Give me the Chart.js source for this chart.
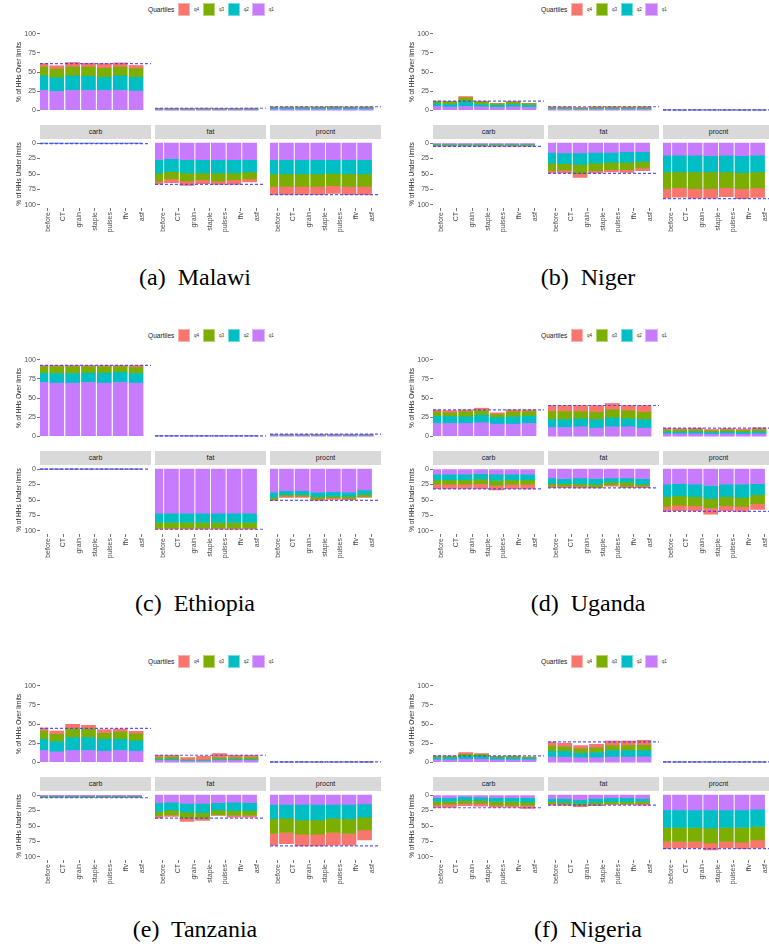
<!DOCTYPE html>
<html>
<head>
<meta charset="utf-8">
<script src="https://cdn.jsdelivr.net/npm/chart.js@4.4.1/dist/chart.umd.min.js"></script>
<style>
  html, body { margin: 0; padding: 0; background: #fff; width: 769px; height: 947px; overflow: hidden; }
  .panel { position: absolute; width: 400px; height: 326px; }
  .legtitle { position: absolute; font: 6.6px "Liberation Sans", Arial, sans-serif; color: #1a1a1a; line-height: 9px; white-space: nowrap; }
  .key { position: absolute; top: 3.3px; width: 12.6px; height: 12.4px; box-sizing: border-box; border: 1px solid rgba(255,255,255,0.45); }
  .keylab { position: absolute; top: 7px; font: 4.5px "Liberation Sans", Arial, sans-serif; line-height: 5px; color: #333; }
  .strip { position: absolute; top: 125px; height: 14px; width: 111px; background: #d9d9d9; font: 7px "Liberation Sans", Arial, sans-serif; color: #1a1a1a; text-align: center; line-height: 14px; }
  .cap { position: absolute; width: 300px; text-align: center; font: 24px "Liberation Serif", "Times New Roman", serif; white-space: pre; line-height: 28px; color: #000; }
</style>
</head>
<body>
<script>
// DATA
const countries = ["Malawi", "Niger", "Ethiopia", "Uganda", "Tanzania", "Nigeria"];
const captionTags = ["(a)", "(b)", "(c)", "(d)", "(e)", "(f)"];
const nutrients = ["carb", "fat", "procnt"];
const scenarios = ["before", "CT", "grain", "staple", "pulses", "ffv", "asf"];
const quartiles = ["q1", "q2", "q3", "q4"];          // stacking order from the axis
const legendOrder = ["q4", "q3", "q2", "q1"];
const quartileColors = ["#C77CFF", "#00BFC4", "#7CAE00", "#F8766D"];
const yTicks = [0, 25, 50, 75, 100];

// rows q1..q4; columns carb x7, fat x7, procnt x7 (% of HHs)
const malawiOver = [
  [26, 24.5, 26, 26, 26, 26, 25, 0.5, 0.5, 0.5, 0.5, 0.5, 0.5, 0.5, 1.2, 1.2, 1.2, 1.2, 1.2, 1.2, 1.2],
  [19, 18, 19, 18.5, 17, 19, 18, 0.6, 0.6, 0.6, 0.6, 0.6, 0.6, 0.6, 1.5, 1.5, 1.5, 1.5, 1.5, 1.5, 1.5],
  [11.5, 11.3, 11.5, 12, 12, 11.5, 11.5, 0.6, 0.6, 0.6, 0.6, 0.6, 0.6, 0.6, 1, 1, 1, 1, 1.2, 1, 1],
  [4.5, 4.4, 6, 5, 6, 5.5, 4, 0.8, 0.9, 0.8, 1, 0.8, 0.8, 1, 0.8, 0.7, 0.8, 0.8, 0.9, 0.7, 0.8],
];
const malawiOverLine = [61, 2.5, 4.5];
const malawiUnder = [
  [0, 0, 0, 0, 0, 0, 0, 27, 25.3, 27, 27, 27, 27, 27, 27, 27, 27, 27, 27, 27, 27],
  [0, 0, 0, 0, 0, 0, 0, 21.5, 20.4, 21.4, 21.4, 21.4, 21.4, 19.8, 23, 23, 23, 23, 22, 23, 23],
  [0.3, 0.6, 0.3, 0.3, 0.3, 0.3, 0.6, 13.5, 12.3, 13.4, 10.8, 13.4, 10.8, 11.2, 20, 20, 20, 20, 20, 20, 20],
  [0.7, 0.2, 0.7, 0.7, 0.7, 0.7, 0.3, 4.5, 6, 6.5, 6.6, 4.9, 7.5, 4.9, 13.4, 13.4, 13.4, 13.4, 12.5, 13.4, 13.4],
];
const malawiUnderLine = [1, 66.7, 83.5];

const nigerOver = [
  [5, 4, 4.8, 4.4, 3.5, 4.4, 3.5, 1, 1, 0.8, 1, 1, 1, 1, 0.1, 0.1, 0.1, 0.1, 0.1, 0.1, 0.1],
  [3.5, 3.5, 6, 3, 3, 3, 3, 1, 1, 0.8, 1, 1, 1, 1, 0.1, 0.1, 0.1, 0.1, 0.1, 0.1, 0.1],
  [3, 3.5, 5.3, 3.5, 2.2, 3, 2.2, 1.5, 1.5, 1.2, 1.5, 1.5, 1.5, 1.5, 0.1, 0.1, 0.1, 0.1, 0.1, 0.1, 0.1],
  [0.3, 0.5, 1.8, 0.9, 0.3, 1, 0.3, 1, 1, 0.7, 1.2, 1.2, 1, 1.2, 0.2, 0.2, 0.2, 0.2, 0.2, 0.2, 0.2],
];
const nigerOverLine = [11.8, 4.5, 0.5];
const nigerUnder = [
  [1.5, 1.5, 1.5, 1.5, 1.5, 1.5, 1.5, 15, 16, 16, 15, 15, 14, 14, 19.4, 19.4, 19.4, 20.4, 19.4, 20.4, 19.4],
  [1, 1, 1, 1, 1, 1, 1, 17.3, 17.2, 18.4, 17.3, 16.2, 17.2, 15.6, 27.4, 27.4, 27.4, 26.4, 27.4, 27.4, 27.4],
  [1.2, 1.2, 1.2, 1.2, 1.2, 1.2, 1.2, 12.3, 10.8, 15, 12.3, 11.8, 11.8, 10.7, 26.9, 25.2, 26.9, 26.9, 25.2, 25.9, 25.8],
  [1.5, 1.5, 1.5, 1.5, 1.5, 1.5, 1.5, 3.8, 4.4, 6, 3.8, 3.8, 4.3, 4.3, 15, 15.6, 15.5, 15.5, 14.6, 16.4, 15.2],
];
const nigerUnderLine = [5.4, 49, 89.8];

const ethiopiaOver = [
  [70.3, 69.4, 69.4, 70.3, 69.4, 70.3, 69.4, 0.3, 0.3, 0.3, 0.3, 0.3, 0.3, 0.3, 0.5, 0.5, 0.5, 0.5, 0.5, 0.5, 0.5],
  [12.2, 12.6, 12.6, 12.2, 13.1, 13.5, 12.6, 0.2, 0.2, 0.2, 0.2, 0.2, 0.2, 0.2, 0.5, 0.5, 0.5, 0.5, 0.5, 0.5, 0.5],
  [8.3, 8.8, 8.8, 8.3, 8.3, 7, 8, 0, 0, 0, 0, 0, 0, 0, 0.6, 0.6, 0.6, 0.6, 0.6, 0.6, 0.6],
  [1.8, 1.8, 1.8, 1.8, 1.8, 1.8, 2.6, 0, 0, 0, 0, 0, 0, 0, 0.9, 0.9, 0.9, 0.9, 0.9, 0.9, 0.9],
];
const ethiopiaOverLine = [92.6, 0.5, 2.6];
const ethiopiaUnder = [
  [0, 0, 0, 0, 0, 0, 0, 71.2, 71.2, 71.2, 71.2, 71.2, 71.2, 71.2, 37.5, 34.8, 34.8, 37.5, 36.4, 37.5, 33.7],
  [0, 0, 0, 0, 0, 0, 0, 15.2, 15.2, 15.2, 15.2, 15.2, 15.2, 15.2, 8.2, 6.5, 6.5, 7.1, 7.6, 6.6, 7.1],
  [0, 0, 0, 0, 0, 0, 0, 9.3, 9.3, 9.3, 9.3, 9.3, 9.3, 9.3, 3.2, 2.7, 2.7, 3.8, 2.7, 3.2, 3.8],
  [0, 0, 0, 0, 0, 0, 0, 1.6, 1.6, 1.6, 1.6, 1.6, 2, 1.6, 1.6, 1.7, 1.7, 2.1, 2.2, 2.2, 1.1],
];
const ethiopiaUnderLine = [0, 97.3, 50.5];

const ugandaOver = [
  [16.6, 16.6, 16.6, 17.5, 15.7, 15.7, 16.6, 11.4, 11.4, 12.2, 10.5, 12.2, 12.2, 10.5, 3, 3, 3, 2.5, 3, 2.5, 3],
  [9.6, 9.2, 8.7, 10, 8.8, 9.6, 9.6, 10.4, 10.4, 10.5, 11.3, 11.8, 10.5, 11.3, 2.7, 2.5, 2.7, 2.5, 2.5, 2.5, 2.7],
  [5.7, 4.8, 7, 6.1, 3.9, 6.6, 6.1, 10.5, 10.5, 9.6, 9.6, 10.5, 10.5, 9.6, 2.6, 2.5, 2.6, 2, 2.5, 2.5, 2.6],
  [2.6, 3, 2.2, 3.1, 2.2, 2.6, 2.2, 7.9, 7.9, 7.9, 8.8, 8.3, 7, 8.8, 2.2, 2, 2.2, 1.8, 2, 1.8, 2.7],
];
const ugandaOverLine = [34.5, 40.2, 10.5];
const ugandaUnder = [
  [8.2, 8.2, 8.2, 7.1, 8.2, 8.2, 8.2, 14.1, 15.2, 14.1, 15.2, 14.1, 14.1, 15.2, 24.5, 23.4, 24.5, 26.6, 24.5, 24.5, 23.4],
  [9.2, 9.2, 9.2, 9.2, 10.3, 9.2, 9.2, 9.3, 8.2, 9.3, 9.3, 7.1, 7.1, 9.3, 20.1, 20.1, 20.1, 20.7, 20.1, 21.2, 17.9],
  [7.1, 7.1, 7.1, 7.1, 8.1, 7.1, 7.1, 4.3, 4.3, 4.3, 4.3, 4.3, 6.5, 3.2, 15.7, 14.7, 14.7, 15.2, 14.7, 14.6, 14.7],
  [7, 7, 7, 8.1, 7.1, 7, 7.5, 2.2, 2.2, 2.7, 1.6, 2.2, 2.2, 2.2, 8.2, 9.2, 8.2, 10.3, 8.2, 8.2, 9.2],
];
const ugandaUnderLine = [32, 30.4, 68.5];

const tanzaniaOver = [
  [15.2, 13.5, 15.2, 15.2, 14.3, 15.2, 14.3, 2.2, 2.2, 1.3, 1.3, 2.2, 2.2, 2.2, 0.1, 0.1, 0.1, 0.1, 0.1, 0.1, 0.1],
  [14.8, 13.5, 17, 17, 15.7, 14.8, 13.5, 1.3, 1.7, 0.9, 0.9, 1.3, 1.3, 1.3, 0.1, 0.1, 0.1, 0.1, 0.1, 0.1, 0.1],
  [10.9, 9.5, 11.3, 11.3, 7.8, 9.6, 9.2, 2.6, 2.6, 0.8, 0.8, 2.2, 2.2, 2.6, 0.1, 0.1, 0.1, 0.1, 0.1, 0.1, 0.1],
  [3.9, 4.4, 6.1, 4.8, 4.8, 3.9, 3.4, 3, 2.6, 3.1, 4.8, 5.6, 3.4, 3, 0.2, 0.2, 0.2, 0.2, 0.2, 0.2, 0.7],
];
const tanzaniaOverLine = [44.3, 9.1, 0.5];
const tanzaniaUnder = [
  [0.5, 0.5, 0.5, 0.5, 0.5, 0.5, 0.5, 12.4, 11.4, 13.5, 13.5, 12.4, 11.4, 12.4, 15.1, 15.1, 15.1, 15.1, 15.1, 15.1, 14.1],
  [1.5, 1.5, 1.5, 1.5, 1.5, 1.5, 1.5, 14.6, 12.9, 14.1, 15.1, 11.9, 14, 13, 23.3, 22.2, 24.9, 24.9, 22.2, 23.3, 21.6],
  [1, 1, 1, 1, 1, 1, 1, 6.5, 7.6, 9.2, 8.7, 7.6, 7.6, 7.6, 23.8, 23.2, 23.2, 23.2, 23.2, 23.8, 20.5],
  [1.3, 1.3, 1.3, 1.3, 1.3, 1.3, 1.3, 3.8, 2.7, 5.9, 3.8, 1.1, 2.7, 2.7, 19.4, 17.9, 19, 19, 20.6, 19, 16.2],
];
const tanzaniaUnderLine = [4.3, 37.3, 82.2];

const nigeriaOver = [
  [3, 3, 3.9, 3.9, 3, 3, 3, 6.5, 6.5, 5.7, 5.7, 6.5, 6.5, 7, 0.1, 0.1, 0.1, 0.1, 0.1, 0.1, 0.1],
  [2.7, 2.7, 3.5, 3.5, 2.7, 2.7, 2.2, 7.8, 7.8, 6, 6.9, 8.7, 8.7, 8.2, 0.1, 0.1, 0.1, 0.1, 0.1, 0.1, 0.1],
  [1.7, 1.7, 3, 3, 1.7, 1.7, 1.3, 7, 5.7, 5.7, 6.1, 6.5, 6.5, 7, 0.1, 0.1, 0.1, 0.1, 0.1, 0.1, 0.1],
  [0.9, 0.9, 2.2, 0.9, 0.4, 0.8, 0.5, 5.2, 4.8, 4.3, 4.8, 6.1, 6.1, 6.5, 0.1, 0.1, 0.1, 0.1, 0.1, 0.1, 0.1],
];
const nigeriaOverLine = [8.3, 26.5, 0.3];
const nigeriaUnder = [
  [4.3, 4.3, 2.7, 3.2, 4.3, 4.3, 4.3, 5.4, 5.4, 7.6, 5.4, 4.3, 4.3, 5.4, 23.8, 23.8, 23.8, 23.8, 23.8, 23.8, 22.7],
  [6, 6, 5.9, 5.4, 6, 6, 7.1, 5.4, 6, 5.4, 6.5, 6.5, 6.5, 4.9, 28.6, 28.6, 28.6, 29.7, 28.6, 28.6, 28.1],
  [5.4, 4.3, 4.9, 4.9, 5.9, 5.9, 5.4, 3.3, 3.2, 3.2, 3.2, 3.3, 3.3, 3.2, 22.7, 22.7, 22.7, 23.8, 22.7, 23.8, 21.6],
  [4.3, 5.4, 3.8, 4.3, 3.3, 3.3, 4.8, 2.1, 2.2, 2.7, 2.2, 1, 1, 2.7, 11.4, 10.3, 10.3, 11.3, 10.3, 10.3, 13],
];
const nigeriaUnderLine = [20.5, 16.2, 86.5];

const overBlocks = [malawiOver, nigerOver, ethiopiaOver, ugandaOver, tanzaniaOver, nigeriaOver];
const overLines = [malawiOverLine, nigerOverLine, ethiopiaOverLine, ugandaOverLine, tanzaniaOverLine, nigeriaOverLine];
const underBlocks = [malawiUnder, nigerUnder, ethiopiaUnder, ugandaUnder, tanzaniaUnder, nigeriaUnder];
const underLines = [malawiUnderLine, nigerUnderLine, ethiopiaUnderLine, ugandaUnderLine, tanzaniaUnderLine, nigeriaUnderLine];

// LAYOUT
const fontSans = '"Liberation Sans", Arial, sans-serif';
const PANEL_X = [0, 393];
const PANEL_Y = [0, 326, 652];
const FACET_X = [40, 155, 270];
const FACET_W = 111;
const YAXIS_W = 30;
const XAXIS_H = 40;
const BAR_W = 14;

function drawFacet(host, block, line, k, under) {
  const first = k === 0;
  const w = FACET_W + (first ? YAXIS_W : 0);
  const h = under ? 6 + 68 + XAXIS_H : 96;
  const canvas = document.createElement("canvas");
  canvas.width = w;
  canvas.height = h;
  canvas.style.cssText = `position:absolute;left:${FACET_X[k] - (first ? YAXIS_W : 0)}px;top:${under ? 134 : 24}px;width:${w}px;height:${h}px`;
  host.appendChild(canvas);

  const datasets = quartiles.map((q, i) => ({
    label: q,
    data: block[i].slice(k * 7, k * 7 + 7),
    backgroundColor: quartileColors[i],
    borderWidth: 0,
    barThickness: BAR_W,
    order: 1,
  }));
  // dashed "before" reference line across the whole facet
  datasets.push({
    type: "line",
    label: "before",
    xAxisID: "x2",
    data: [{ x: 0, y: line[k] }, { x: 1, y: line[k] }],
    borderColor: "rgba(60,60,255,0.85)",
    borderWidth: 1.2,
    borderDash: [3, 2],
    pointRadius: 0,
    fill: false,
    order: 0,
  });

  new Chart(canvas, {
    type: "bar",
    data: { labels: scenarios, datasets },
    options: {
      responsive: false,
      animation: false,
      layout: { padding: { top: 6, bottom: under ? 0 : 6, left: 0, right: 0 } },
      plugins: { legend: { display: false }, tooltip: { enabled: false } },
      scales: {
        x: {
          stacked: true,
          display: under,
          offset: true,
          grid: { drawOnChartArea: false, offset: false, tickLength: 3, color: "#777" },
          border: { display: false },
          ticks: { minRotation: 90, maxRotation: 90, autoSkip: false, padding: 1, color: "#4d4d4d", font: { size: 7, family: fontSans } },
          afterFit: (s) => { if (under) s.height = XAXIS_H; },
        },
        x2: { type: "linear", display: false, offset: false, min: 0, max: 1, grid: { offset: false } },
        y: {
          stacked: true,
          display: first,
          min: -5,
          max: 105,
          reverse: under,
          afterBuildTicks: (s) => { s.ticks = yTicks.map((v) => ({ value: v })); },
          afterFit: (s) => { if (first) s.width = YAXIS_W; },
          grid: { drawOnChartArea: false, tickLength: 3, color: "#777" },
          border: { display: false },
          ticks: { padding: 1, color: "#4d4d4d", font: { size: 7, family: fontSans } },
          title: {
            display: true,
            text: under ? "% of HHs Under limits" : "% of HHs Over limits",
            color: "#1a1a1a",
            font: { size: 6.5, family: fontSans },
            padding: { top: 5, bottom: 0 },
          },
        },
      },
    },
  });
}

function drawLegend(host) {
  const t = document.createElement("div");
  t.className = "legtitle";
  t.textContent = "Quartiles";
  t.style.left = "148px";
  t.style.top = "5px";
  host.appendChild(t);
  legendOrder.forEach((q, i) => {
    const box = document.createElement("div");
    box.className = "key";
    box.style.left = 177.7 + i * 24.9 + "px";
    box.style.background = quartileColors[quartiles.indexOf(q)];
    host.appendChild(box);
    const lab = document.createElement("div");
    lab.className = "keylab";
    lab.textContent = q;
    lab.style.left = 194 + i * 24.9 + "px";
    host.appendChild(lab);
  });
}

countries.forEach((name, p) => {
  const panel = document.createElement("div");
  panel.className = "panel";
  panel.style.left = PANEL_X[p % 2] + "px";
  panel.style.top = PANEL_Y[Math.floor(p / 2)] + "px";
  document.body.appendChild(panel);

  drawLegend(panel);

  nutrients.forEach((n, k) => {
    const strip = document.createElement("div");
    strip.className = "strip";
    strip.style.left = FACET_X[k] + "px";
    strip.textContent = n;
    panel.appendChild(strip);
    drawFacet(panel, overBlocks[p], overLines[p], k, false);
    drawFacet(panel, underBlocks[p], underLines[p], k, true);
  });

  const cap = document.createElement("div");
  cap.className = "cap";
  cap.style.left = 195 - 150 + "px";
  cap.style.top = "263px";
  cap.textContent = captionTags[p] + "  " + name;
  panel.appendChild(cap);
});
</script>
</body>
</html>
